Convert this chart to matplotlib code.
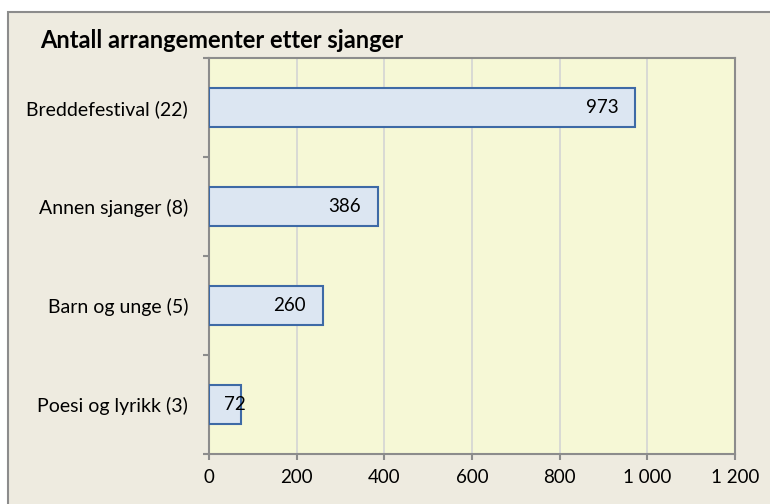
import matplotlib
matplotlib.use("Agg")
import matplotlib.pyplot as plt
from matplotlib.patches import Rectangle

# data
sjangre = ["Poesi og lyrikk (3)", "Barn og unge (5)", "Annen sjanger (8)", "Breddefestival (22)"]
arrangementer = [72, 260, 386, 973]
x_ticks = [0, 200, 400, 600, 800, 1000, 1200]
x_labels = ["0", "200", "400", "600", "800", "1 000", "1 200"]

plt.rcParams['font.family'] = ['Lato', 'DejaVu Sans']

W, H = 770, 504
fig = plt.figure(figsize=(W / 100, H / 100), dpi=100)
fig.patch.set_facecolor("white")

# chart area with grey frame (only top/left edge visible in the crop)
frame = Rectangle((8 / W, -0.1), 1.0, 1.1 - 12 / H, transform=fig.transFigure,
                  facecolor="#EEEBE0", edgecolor="#8C8C8C", linewidth=1.5, zorder=-5)
fig.patches.append(frame)

ax = fig.add_axes([209 / W, 1 - 454 / H, (735 - 209) / W, (454 - 58) / H])
ax.set_facecolor("#F6F8D6")

y = list(range(len(sjangre)))
bars = ax.barh(y, arrangementer, height=0.395, color="#DCE6F2",
               edgecolor="#3E6AA6", linewidth=1.5, zorder=3)

for yy, v in zip(y, arrangementer):
    if v < 150:
        # too short bar: label sticks out past the end, like excel does
        ax.annotate(str(v), (0, yy), xytext=(11, 0), textcoords="offset points",
                    ha="left", va="center", fontsize=13.5, zorder=4)
    else:
        ax.annotate(str(v), (v, yy), xytext=(-12.5, 0), textcoords="offset points",
                    ha="right", va="center", fontsize=13.5, zorder=4)

ax.set_xlim(0, 1200)
ax.set_ylim(-0.5, len(sjangre) - 0.5)
ax.set_xticks(x_ticks)
ax.set_xticklabels(x_labels, fontsize=13.5)
ax.set_yticks(y)
ax.set_yticklabels(sjangre, fontsize=14)
ax.set_yticks([i + 0.5 for i in range(-1, len(sjangre))], minor=True)

ax.grid(axis="x", color="#D4D4D4", linewidth=1.2, zorder=1)
ax.set_axisbelow(True)

for s in ax.spines.values():
    s.set_color("#8C8C8C")
    s.set_linewidth(1.5)

ax.tick_params(axis="y", which="major", length=0, pad=15)
ax.tick_params(axis="y", which="minor", length=4.5, color="#8C8C8C", width=1.5)
ax.tick_params(axis="x", length=4.5, color="#8C8C8C", width=1.5, pad=6)

fig.text(40 / W, 1 - 41 / H, "Antall arrangementer etter sjanger", fontsize=17,
         fontweight="bold", ha="left", va="center")

fig.savefig("out.png", dpi=100, facecolor=fig.get_facecolor())
